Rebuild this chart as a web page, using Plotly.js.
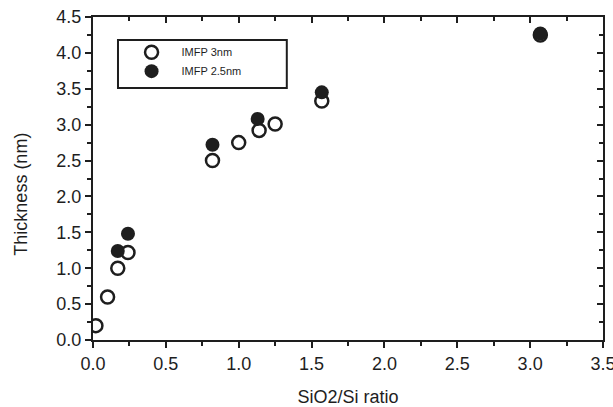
<!DOCTYPE html>
<html>
<head>
<meta charset="utf-8">
<script src="https://cdn.plot.ly/plotly-3.0.1.min.js"></script>
<style>html,body{margin:0;padding:0;background:#fff;}</style>
</head>
<body>
<div id="chart" style="width:613px;height:407px;"></div>
<script>
const x3nm = [0.02, 0.10, 0.17, 0.24, 0.82, 1.00, 1.14, 1.25, 1.57, 3.07];
const y3nm = [0.20, 0.60, 1.00, 1.22, 2.50, 2.75, 2.92, 3.01, 3.33, 4.25];
const x25nm = [0.17, 0.24, 0.82, 1.13, 1.57, 3.07];
const y25nm = [1.24, 1.48, 2.72, 3.08, 3.45, 4.27];
const xTicks = [0, 0.5, 1, 1.5, 2, 2.5, 3, 3.5];
const xTickText = ['0.0','0.5','1.0','1.5','2.0','2.5','3.0','3.5'];
const yTicks = [0, 0.5, 1, 1.5, 2, 2.5, 3, 3.5, 4, 4.5];
const yTickText = ['0.0','0.5','1.0','1.5','2.0','2.5','3.0','3.5','4.0','4.5'];

const ink = '#1e1e1e';
const traces = [
  {x: x3nm, y: y3nm, mode: 'markers', type: 'scatter', name: 'IMFP 3nm',
   marker: {symbol: 'circle-open', size: 13, color: ink, line: {width: 2.5, color: ink}}},
  {x: x25nm, y: y25nm, mode: 'markers', type: 'scatter', name: 'IMFP 2.5nm',
   marker: {symbol: 'circle', size: 14, color: ink, line: {width: 0}}},
  {x: [], y: [], xaxis: 'x2', yaxis: 'y2', showlegend: false, type: 'scatter', mode: 'markers'}
];
const tickFont = {family: 'Liberation Sans, Arial, sans-serif', size: 18, color: ink};
const layout = {
  width: 613, height: 407,
  margin: {l: 93, r: 10, t: 17, b: 67},
  paper_bgcolor: '#fff', plot_bgcolor: '#fff',
  showlegend: true,
  legend: {x: 0.056, y: 0.936, xanchor: 'left', yanchor: 'top',
    bgcolor: 'rgba(0,0,0,0)', borderwidth: 0,
    font: {family: 'Liberation Sans Narrow, Arial Narrow, Liberation Sans, sans-serif', size: 11, color: ink},
    tracegroupgap: 0, itemwidth: 50},
  shapes: [{type: 'rect', xref: 'paper', yref: 'paper', x0: 0.049, x1: 0.380, y0: 0.780, y1: 0.929,
    line: {color: ink, width: 2}, fillcolor: 'rgba(0,0,0,0)', layer: 'below'}],
  annotations: [{text: 'Thickness (nm)', xref: 'paper', yref: 'paper', x: 0, y: 0.45,
    xanchor: 'center', yanchor: 'middle', xshift: -72, textangle: -90, showarrow: false,
    font: {family: 'Liberation Sans, Arial, sans-serif', size: 18, color: ink}}],
  xaxis: {range: [0, 3.5], tickvals: xTicks, ticktext: xTickText, ticks: 'outside', ticklen: 6, tickwidth: 2,
    tickcolor: ink, showline: true, linecolor: ink, linewidth: 2, showgrid: false, zeroline: false,
    tickfont: tickFont, ticklabeloverflow: 'allow',
    minor: {ticks: 'outside', dtick: 0.25, ticklen: 4, tickwidth: 2, tickcolor: ink},
    title: {text: 'SiO2/Si ratio', font: {family: 'Liberation Sans, Arial, sans-serif', size: 18, color: ink}, standoff: 22}},
  yaxis: {range: [0, 4.5], tickvals: yTicks, ticktext: yTickText, ticks: 'outside', ticklen: 6, tickwidth: 2,
    tickcolor: ink, showline: true, linecolor: ink, linewidth: 2, showgrid: false, zeroline: false,
    tickfont: tickFont,
    minor: {ticks: 'outside', dtick: 0.25, ticklen: 4, tickwidth: 2, tickcolor: ink}},
  xaxis2: {range: [0, 3.5], overlaying: 'x', side: 'top', anchor: 'y', tickvals: xTicks, showticklabels: false,
    ticks: 'inside', ticklen: 6, tickwidth: 2, tickcolor: ink, showline: true, linecolor: ink, linewidth: 2,
    showgrid: false, zeroline: false,
    minor: {ticks: 'inside', dtick: 0.25, ticklen: 4, tickwidth: 2, tickcolor: ink}},
  yaxis2: {range: [0, 4.5], overlaying: 'y', side: 'right', anchor: 'x', tickvals: yTicks, showticklabels: false,
    ticks: 'inside', ticklen: 6, tickwidth: 2, tickcolor: ink, showline: true, linecolor: ink, linewidth: 2,
    showgrid: false, zeroline: false,
    minor: {ticks: 'inside', dtick: 0.25, ticklen: 4, tickwidth: 2, tickcolor: ink}}
};
Plotly.newPlot('chart', traces, layout, {displayModeBar: false, staticPlot: true});
</script>
</body>
</html>
